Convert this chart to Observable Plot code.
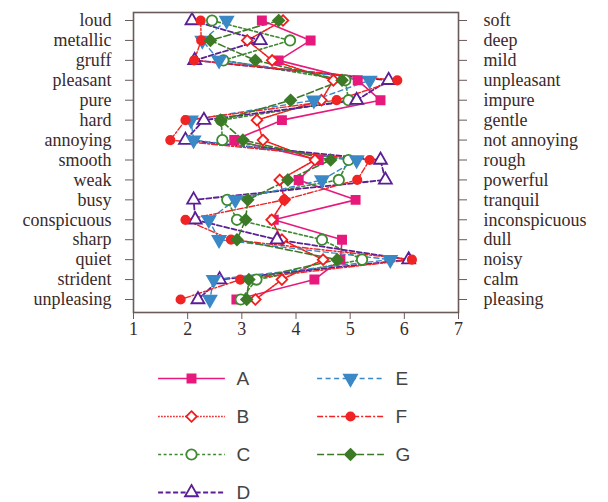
<!DOCTYPE html>
<html>
<head>
<meta charset="utf-8">
<script src="https://cdn.jsdelivr.net/npm/d3@7"></script>
<script src="https://cdn.jsdelivr.net/npm/@observablehq/plot@0.6"></script>
<style>
  html, body { margin: 0; padding: 0; background: #fff; }
  #chart svg { display: block; }
</style>
</head>
<body>
<div id="chart"></div>
<script>
const leftLabels = ["loud","metallic","gruff","pleasant","pure","hard","annoying","smooth","weak","busy","conspicuous","sharp","quiet","strident","unpleasing"];
const rightLabels = ["soft","deep","mild","unpleasant","impure","gentle","not annoying","rough","powerful","tranquil","inconspicuous","dull","noisy","calm","pleasing"];
const xTicks = [1, 2, 3, 4, 5, 6, 7];
const seriesNames = ["A","B","C","D","E","F","G"];

const valuesA = [3.37, 4.27, 3.68, 5.14, 5.56, 3.74, 2.86, 4.42, 4.05, 5.10, 3.59, 4.85, 4.82, 4.34, 2.90];
const valuesB = [3.76, 3.10, 3.56, 4.69, 4.47, 3.28, 3.39, 4.35, 3.70, 3.79, 3.55, 3.74, 4.50, 3.74, 3.25];
const valuesC = [2.45, 3.89, 2.66, 4.91, 4.97, 2.62, 2.64, 4.97, 4.79, 2.73, 2.91, 4.48, 5.22, 3.27, 2.98];
const valuesD = [2.08, 3.34, 2.13, 5.71, 5.12, 2.30, 1.96, 5.56, 5.65, 2.11, 2.14, 3.65, 6.08, 2.59, 2.19];
const valuesE = [2.72, 2.27, 2.58, 5.36, 4.33, 2.06, 2.11, 5.12, 4.48, 2.88, 2.39, 2.58, 5.74, 2.48, 2.41];
const valuesF = [2.24, 2.25, 2.12, 5.87, 4.75, 1.96, 1.68, 5.36, 5.13, 3.78, 1.96, 2.80, 6.14, 2.97, 1.87];
const valuesG = [3.68, 2.42, 3.25, 4.85, 3.90, 2.61, 3.02, 4.64, 3.85, 3.11, 3.07, 2.91, 4.76, 3.13, 3.09];

const allValues = [valuesA, valuesB, valuesC, valuesD, valuesE, valuesF, valuesG];

const styles = {
  A: {color: "#e8197c", dash: null,        symbol: "square",   fill: "#e8197c", r: 4.6, rotate: 0,   sw: 1.6},
  B: {color: "#f21d1d", dash: "1.6,1.4",   symbol: "diamond2", fill: "white",   r: 4.8, rotate: 0,   sw: 1.6},
  C: {color: "#3d8a30", dash: "3,2.5",     symbol: "circle",   fill: "white",   r: 5.2, rotate: 0,   sw: 1.6},
  D: {color: "#5a1f95", dash: "5,2.5",     symbol: "triangle", fill: "white",   r: 4.8, rotate: 0,   sw: 1.8},
  E: {color: "#3a88c6", dash: "5,3.5",     symbol: "triangle", fill: "#3a88c6", r: 4.8, rotate: 180, sw: 1.4},
  F: {color: "#f02424", dash: "6,2,2,2",   symbol: "circle",   fill: "#f02424", r: 4.2, rotate: 0,   sw: 1.4},
  G: {color: "#3d7a27", dash: "7,3",       symbol: "diamond2", fill: "#3d7a27", r: 5.0, rotate: 0,   sw: 1.6}
};

const data = seriesNames.flatMap((s, si) =>
  allValues[si].map((v, i) => ({series: s, row: leftLabels[i], value: v, idx: i}))
);

const seriesMarks = seriesNames.map(s => {
  const st = styles[s];
  const d = data.filter(r => r.series === s);
  return Plot.line(d, {x: "value", y: "row", stroke: st.color, strokeWidth: st.sw, strokeDasharray: st.dash});
});
const dotMarks = seriesNames.map(s => {
  const st = styles[s];
  const d = data.filter(r => r.series === s);
  return Plot.dot(d, {x: "value", y: "row", symbol: () => st.symbol, r: st.r, rotate: st.rotate,
    fill: st.fill, stroke: st.color, strokeWidth: 1.8});
});

const textColor = "#3a2a2a";
const main = Plot.plot({
  width: 608,
  height: 340,
  marginLeft: 133,
  marginRight: 150,
  marginTop: 12,
  marginBottom: 28,
  x: {domain: [1, 7], label: null},
  y: {type: "point", domain: leftLabels, padding: 0, round: false, range: [20, 299], label: null},
  symbol: {type: "identity"},
  style: {fontFamily: "'Liberation Serif', 'DejaVu Serif', serif", fontSize: "18px", color: textColor, background: "white"},
  marks: [
    Plot.axisX({ticks: xTicks, tickSize: 7, tickPadding: 3, tickFormat: d => String(d), stroke: "#6b5a5a", label: null}),
    Plot.axisY({anchor: "left", tickSize: 8, tickPadding: 14, stroke: "#6b5a5a", label: null}),
    Plot.axisY({anchor: "right", tickSize: 8, tickPadding: 17, stroke: "#6b5a5a", label: null,
      tickFormat: d => rightLabels[leftLabels.indexOf(d)]}),
    ...seriesMarks,
    ...dotMarks,
    Plot.frame({stroke: "#6b5a5a", strokeWidth: 1.6})
  ]
});

const legendData = seriesNames.map((s, i) => ({name: s, col: Math.floor(i / 4), row: i % 4}));
const legendLines = legendData.map(d => {
  const st = styles[d.name];
  return Plot.link([d], {x1: e => e.col - 0.21, x2: e => e.col + 0.21, y1: "row", y2: "row",
    stroke: st.color, strokeWidth: st.sw, strokeDasharray: st.dash});
});
const legendDots = legendData.map(d => {
  const st = styles[d.name];
  return Plot.dot([d], {x: "col", y: "row", symbol: () => st.symbol, r: st.r, rotate: st.rotate,
    fill: st.fill, stroke: st.color, strokeWidth: 1.8});
});
const legend = Plot.plot({
  width: 608,
  height: 162,
  margin: 0,
  x: {type: "linear", domain: [0, 1], range: [191, 350], axis: null},
  y: {type: "linear", domain: [0, 3], range: [38, 152], axis: null},
  symbol: {type: "identity"},
  style: {fontFamily: "'Liberation Sans', Arial, sans-serif", fontSize: "19px", background: "white"},
  marks: [
    ...legendLines,
    ...legendDots,
    Plot.text(legendData, {x: "col", y: "row", text: "name", dx: 45, textAnchor: "start", fill: "#444"})
  ]
});

const chart = document.getElementById("chart");
chart.appendChild(main);
chart.appendChild(legend);
</script>
</body>
</html>
